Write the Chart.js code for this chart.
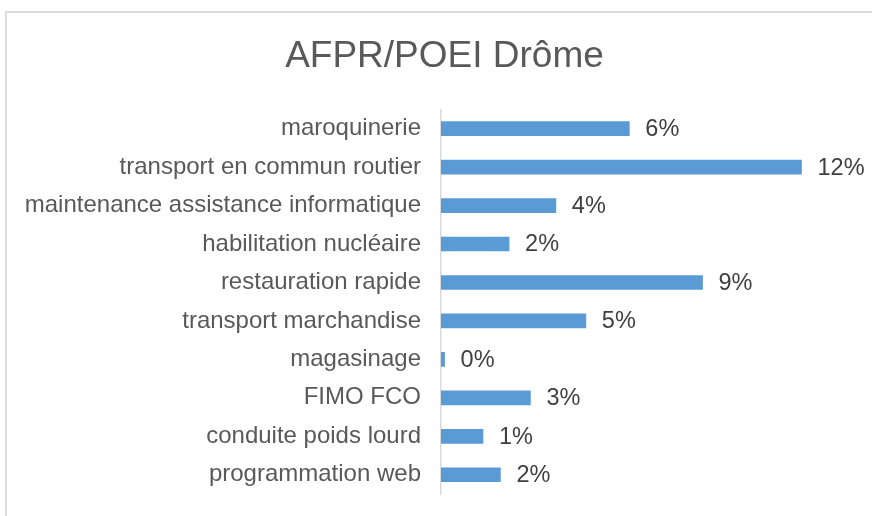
<!DOCTYPE html>
<html>
<head>
<meta charset="utf-8">
<script src="https://cdn.jsdelivr.net/npm/chart.js@4/dist/chart.umd.min.js"></script>
<style>
  html, body { margin: 0; padding: 0; background: #fff; }
  #frame {
    position: absolute; left: 5px; top: 11px;
    width: 900px; height: 600px;
    border: 2px solid #dcdcdc; box-sizing: border-box;
  }
  #wrap { position: absolute; left: 0; top: 0; width: 872px; height: 516px; }
</style>
</head>
<body>
<div id="frame"></div>
<div id="wrap"><canvas id="chart"></canvas></div>
<script>
const categories = [
  'maroquinerie',
  'transport en commun routier',
  'maintenance assistance informatique',
  'habilitation nucléaire',
  'restauration rapide',
  'transport marchandise',
  'magasinage',
  'FIMO FCO',
  'conduite poids lourd',
  'programmation web'
]
const values = [6.28, 12.02, 3.83, 2.27, 8.72, 4.83, 0.12, 2.98, 1.4, 1.98]

const font = "'Liberation Sans', Arial, sans-serif"

// etiquettes de valeur a droite des barres
const valueLabels = {
  id: 'valueLabels',
  afterDatasetsDraw(chart) {
    const ctx = chart.ctx
    const meta = chart.getDatasetMeta(0)
    ctx.save()
    ctx.font = '23.5px ' + font
    ctx.fillStyle = '#404040'
    ctx.textAlign = 'left'
    ctx.textBaseline = 'middle'
    meta.data.forEach((bar, i) => {
      ctx.fillText(Math.round(values[i]) + '%', bar.x + 16, bar.y + 1)
    })
    ctx.restore()
  }
}

const ctx = document.getElementById('chart')

new Chart(ctx, {
  type: 'bar',
  data: {
    labels: categories,
    datasets: [{
      data: values,
      backgroundColor: '#5b9bd5',
      borderWidth: 0,
      barThickness: 14
    }]
  },
  plugins: [valueLabels],
  options: {
    indexAxis: 'y',
    responsive: true,
    maintainAspectRatio: false,
    animation: false,
    layout: {
      // marge droite negative pour centrer le titre comme l'original
      padding: { left: 0, right: -17, top: 0, bottom: 22 }
    },
    plugins: {
      legend: { display: false },
      tooltip: { enabled: false },
      title: {
        display: true,
        text: 'AFPR/POEI Drôme',
        color: '#595959',
        font: { size: 37, family: font, weight: 'normal' },
        padding: { top: 35, bottom: 30 }
      }
    },
    scales: {
      x: {
        display: false,
        min: 0,
        max: 14.37
      },
      y: {
        afterFit(scale) {
          scale.width = 441
          scale.paddingTop = 0
          scale.paddingBottom = 0
        },
        grid: { display: false, drawTicks: false },
        border: { display: true, color: '#d9d9d9', width: 1.5 },
        ticks: {
          padding: 20,
          color: '#595959',
          font: { size: 24, family: font }
        }
      }
    }
  }
})
</script>
</body>
</html>
